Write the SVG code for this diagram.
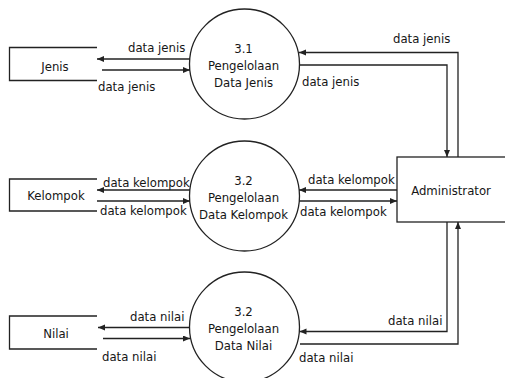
<svg xmlns="http://www.w3.org/2000/svg" width="505" height="378" viewBox="0 0 505 378">
  <style>
    .bg { fill: #ffffff; }
    .shape { fill: #ffffff; stroke: #222222; stroke-width: 1.3; }
    .store { fill: none; stroke: #222222; stroke-width: 1.3; }
    .flow { fill: none; stroke: #222222; stroke-width: 1.3; marker-end: url(#arrow); }
    text { font-family: "DejaVu Sans Condensed", "DejaVu Sans", sans-serif; font-stretch: condensed; font-size: 13px; fill: #161616; }
    .c { text-anchor: middle; }
  </style>
  <defs>
    <marker id="arrow" markerUnits="userSpaceOnUse" markerWidth="8" markerHeight="7" refX="7" refY="3" orient="auto">
      <path d="M0,0 L7,3 L0,6 z" fill="#222222"/>
    </marker>
  </defs>

  <rect class="bg" x="0" y="0" width="505" height="378"/>

  <!-- data stores -->
  <g id="store-jenis">
    <path class="store" d="M97,47.5 H9.5 V80.5 H97"/>
    <text class="c" x="55" y="71">Jenis</text>
  </g>
  <g id="store-kelompok">
    <path class="store" d="M97,179 H9.5 V211 H97"/>
    <text class="c" x="56" y="200">Kelompok</text>
  </g>
  <g id="store-nilai">
    <path class="store" d="M97,316 H9.5 V349 H97"/>
    <text class="c" x="56" y="337.5">Nilai</text>
  </g>

  <!-- processes -->
  <g id="proc-3-1">
    <circle class="shape" cx="244.5" cy="64" r="55"/>
    <text class="c" x="243.5" y="53">3.1</text>
    <text class="c" x="243.5" y="70">Pengelolaan</text>
    <text class="c" x="243.5" y="87">Data Jenis</text>
  </g>
  <g id="proc-3-2-kelompok">
    <circle class="shape" cx="244.5" cy="196" r="55"/>
    <text class="c" x="243.5" y="185">3.2</text>
    <text class="c" x="243.5" y="202">Pengelolaan</text>
    <text class="c" x="243.5" y="219">Data Kelompok</text>
  </g>
  <g id="proc-3-2-nilai">
    <circle class="shape" cx="244.5" cy="327" r="55"/>
    <text class="c" x="243.5" y="316">3.2</text>
    <text class="c" x="243.5" y="333">Pengelolaan</text>
    <text class="c" x="243.5" y="350">Data Nilai</text>
  </g>

  <!-- external entity -->
  <g id="administrator">
    <rect class="shape" x="397" y="157" width="115" height="65"/>
    <text class="c" x="451" y="195">Administrator</text>
  </g>

  <!-- data flows -->
  <g id="flows">
    <path class="flow" d="M190,59 H97"/>
    <path class="flow" d="M102,70 H190"/>
    <path class="flow" d="M458,157 V52.5 H299"/>
    <path class="flow" d="M299,65 H447 V157"/>

    <path class="flow" d="M190,190 H97"/>
    <path class="flow" d="M97,201 H190"/>
    <path class="flow" d="M397,190 H299"/>
    <path class="flow" d="M299,201 H397"/>

    <path class="flow" d="M190,327.5 H98"/>
    <path class="flow" d="M103,338.5 H190"/>
    <path class="flow" d="M447,222 V331.5 H299.5"/>
    <path class="flow" d="M300,344 H458 V222"/>
  </g>

  <!-- flow labels -->
  <g id="flow-labels">
    <text x="128" y="52">data jenis</text>
    <text x="98" y="91">data jenis</text>
    <text x="393" y="43">data jenis</text>
    <text x="302" y="86">data jenis</text>

    <text x="103" y="186.5">data kelompok</text>
    <text x="100" y="215">data kelompok</text>
    <text x="308" y="184">data kelompok</text>
    <text x="300" y="216">data kelompok</text>

    <text x="130" y="320.5">data nilai</text>
    <text x="102" y="361">data nilai</text>
    <text x="388" y="325">data nilai</text>
    <text x="299" y="362">data nilai</text>
  </g>
</svg>
